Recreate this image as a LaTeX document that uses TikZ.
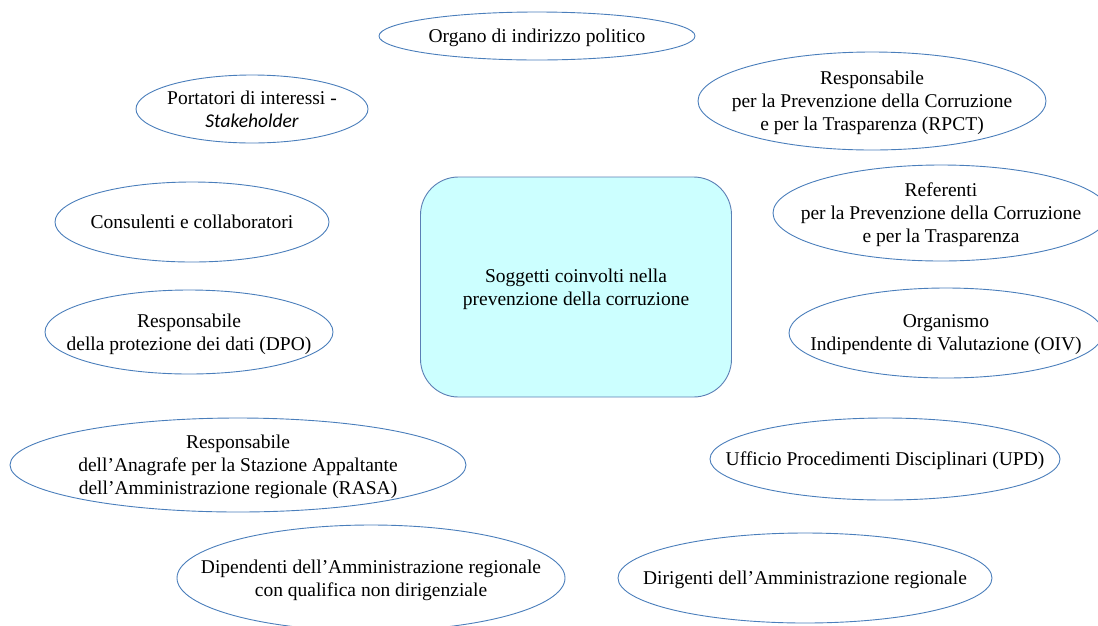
\documentclass[tikz,border=0pt]{standalone}
\usepackage{fontspec}
\setmainfont{Liberation Serif}
\newfontfamily\stakefont{Carlito}
\usepackage{xcolor}
\usetikzlibrary{shapes.geometric}

\definecolor{edgeblue}{HTML}{4A7EBB}
\definecolor{coreblue}{HTML}{5B7FB5}
\definecolor{corefill}{HTML}{CCFFFF}

\begin{document}
\begin{tikzpicture}[x=1pt,y=-1pt,
  actor/.style={draw=edgeblue,ellipse,line width=0.9pt,inner xsep=-70pt,inner ysep=-25pt,
    align=center,text depth=0pt,font=\fontsize{19.5}{23}\selectfont},
  core/.style={draw=coreblue,fill=corefill,rounded corners=38pt,line width=0.9pt,
    minimum width=311pt,minimum height=220pt,align=center,text depth=0pt,
    font=\fontsize{19.5}{23}\selectfont}]
  \useasboundingbox (0,0) rectangle (1098,625);
  % central box
  \node[core] (soggetti) at (576,287) {Soggetti coinvolti nella\\prevenzione della corruzione};
  % left side
  \node[actor,minimum width=316pt,minimum height=48pt] (organo) at (537,36) {Organo di indirizzo politico};
  \node[actor,minimum width=232pt,minimum height=68pt] (portatori) at (252,109)
    {Portatori di interessi -\\{\stakefont\itshape Stakeholder}};
  \node[actor,minimum width=274pt,minimum height=80pt] (consulenti) at (192,222) {Consulenti e collaboratori};
  \node[actor,minimum width=288pt,minimum height=84pt] (dpo) at (189,332)
    {Responsabile\\della protezione dei dati (DPO)};
  \node[actor,minimum width=456pt,minimum height=94pt] (rasa) at (238,465)
    {Responsabile\\dell'Anagrafe per la Stazione Appaltante\\dell'Amministrazione regionale (RASA)};
  \node[actor,minimum width=388pt,minimum height=106pt] (dipendenti) at (371,578)
    {Dipendenti dell'Amministrazione regionale\\con qualifica non dirigenziale};
  % right side
  \node[actor,minimum width=348pt,minimum height=98pt] (rpct) at (872,101)
    {Responsabile\\per la Prevenzione della Corruzione\\e per la Trasparenza (RPCT)};
  \node[actor,minimum width=336pt,minimum height=96pt] (referenti) at (941,213)
    {Referenti\\per la Prevenzione della Corruzione\\e per la Trasparenza};
  \node[actor,minimum width=314pt,minimum height=90pt] (oiv) at (946,333)
    {Organismo\\Indipendente di Valutazione (OIV)};
  \node[actor,minimum width=350pt,minimum height=82pt] (upd) at (885,459)
    {Ufficio Procedimenti Disciplinari (UPD)};
  \node[actor,minimum width=374pt,minimum height=90pt] (dirigenti) at (805,578)
    {Dirigenti dell'Amministrazione regionale};
\end{tikzpicture}
\end{document}
